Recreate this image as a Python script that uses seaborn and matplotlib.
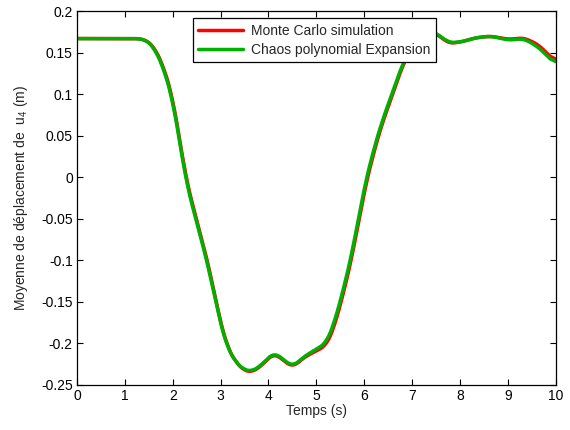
import numpy as np
import pandas as pd
import matplotlib
matplotlib.use('Agg')
import matplotlib.pyplot as plt
import seaborn as sns

# time points (s)
temps = [0.0, 0.5, 1.0, 1.3, 1.45, 1.6, 1.8, 2.0, 2.14, 2.26, 2.45, 2.64, 2.79, 2.98, 3.13,
         3.33, 3.5, 3.63, 3.82, 4.0, 4.13, 4.32, 4.51, 4.74, 4.97, 5.2, 5.35, 5.58, 5.77,
         6.0, 6.19, 6.38, 6.61, 6.8, 7.0, 7.2, 7.4, 7.6, 7.76, 8.03, 8.33, 8.64, 9.02,
         9.33, 9.63, 10.0]

# mean displacement of u4, chaos polynomial expansion
chaos = [0.167, 0.167, 0.167, 0.167, 0.165, 0.157, 0.133, 0.093, 0.045, 0.0, -0.044,
         -0.084, -0.12, -0.172, -0.204, -0.224, -0.232, -0.234, -0.228, -0.217, -0.211,
         -0.22, -0.228, -0.216, -0.208, -0.2, -0.18, -0.132, -0.084, -0.012, 0.032,
         0.069, 0.105, 0.137, 0.158, 0.172, 0.176, 0.17, 0.162, 0.163, 0.168, 0.17,
         0.165, 0.167, 0.157, 0.136]

# mean displacement of u4, Monte Carlo simulation
monte_carlo = [0.167, 0.167, 0.167, 0.167, 0.165, 0.158, 0.135, 0.096, 0.048, 0.003, -0.041,
               -0.081, -0.117, -0.17, -0.203, -0.224, -0.233, -0.235, -0.229, -0.218, -0.212,
               -0.221, -0.229, -0.217, -0.21, -0.203, -0.185, -0.137, -0.089, -0.017, 0.028,
               0.066, 0.102, 0.135, 0.156, 0.171, 0.176, 0.169, 0.161, 0.163, 0.168, 0.17,
               0.166, 0.168, 0.16, 0.139]

df = pd.DataFrame({'t': temps, 'mc': monte_carlo, 'pc': chaos})

sns.set_style('white')
plt.rcParams['font.family'] = ['Liberation Sans', 'DejaVu Sans']
plt.rcParams['mathtext.fontset'] = 'custom'
plt.rcParams['mathtext.rm'] = 'Liberation Sans'
plt.rcParams['mathtext.it'] = 'Liberation Sans'

fig = plt.figure(figsize=(5.7, 4.3), dpi=100)
ax = fig.add_axes([0.135, 0.105, 0.84, 0.869])

# smooth curves through the read points
ts = np.linspace(0, 10, 600)
smooth = pd.DataFrame({
    't': ts,
    'mc': np.interp(ts, df['t'], df['mc']),
    'pc': np.interp(ts, df['t'], df['pc']),
})
smooth['mc'] = smooth['mc'].rolling(15, center=True, min_periods=1).mean()
smooth['pc'] = smooth['pc'].rolling(15, center=True, min_periods=1).mean()

sns.lineplot(data=smooth, x='t', y='mc', ax=ax, color='#ff0000', lw=2.5,
             label='Monte Carlo simulation')
sns.lineplot(data=smooth, x='t', y='pc', ax=ax, color='#00b000', lw=2.5,
             label='Chaos polynomial Expansion')

ax.set_xlim(0, 10)
ax.set_ylim(-0.25, 0.2)
ax.set_xticks(range(0, 11))
ax.set_yticks([-0.25, -0.2, -0.15, -0.1, -0.05, 0, 0.05, 0.1, 0.15, 0.2])
ax.set_yticklabels(['-0.25', '-0.2', '-0.15', '-0.1', '-0.05', '0', '0.05', '0.1', '0.15', '0.2'])
ax.tick_params(direction='in', length=4, width=0.8, labelsize=10, top=True, right=True,
               bottom=True, left=True, colors='black', pad=3)
for s in ax.spines.values():
    s.set_color('black')
    s.set_linewidth(0.9)

ax.set_xlabel('Temps (s)', fontsize=10, labelpad=1)
ax.set_ylabel('Moyenne de déplacement de  u$_4$ (m)', fontsize=10, labelpad=8)

leg = ax.legend(loc='upper left', bbox_to_anchor=(0.242, 0.981), borderaxespad=0,
                fontsize=10, fancybox=False, framealpha=1, edgecolor='black',
                handlelength=3.2, borderpad=0.4, labelspacing=0.35, handletextpad=0.6)
leg.get_frame().set_linewidth(0.9)

fig.savefig('out.png', dpi=100)
